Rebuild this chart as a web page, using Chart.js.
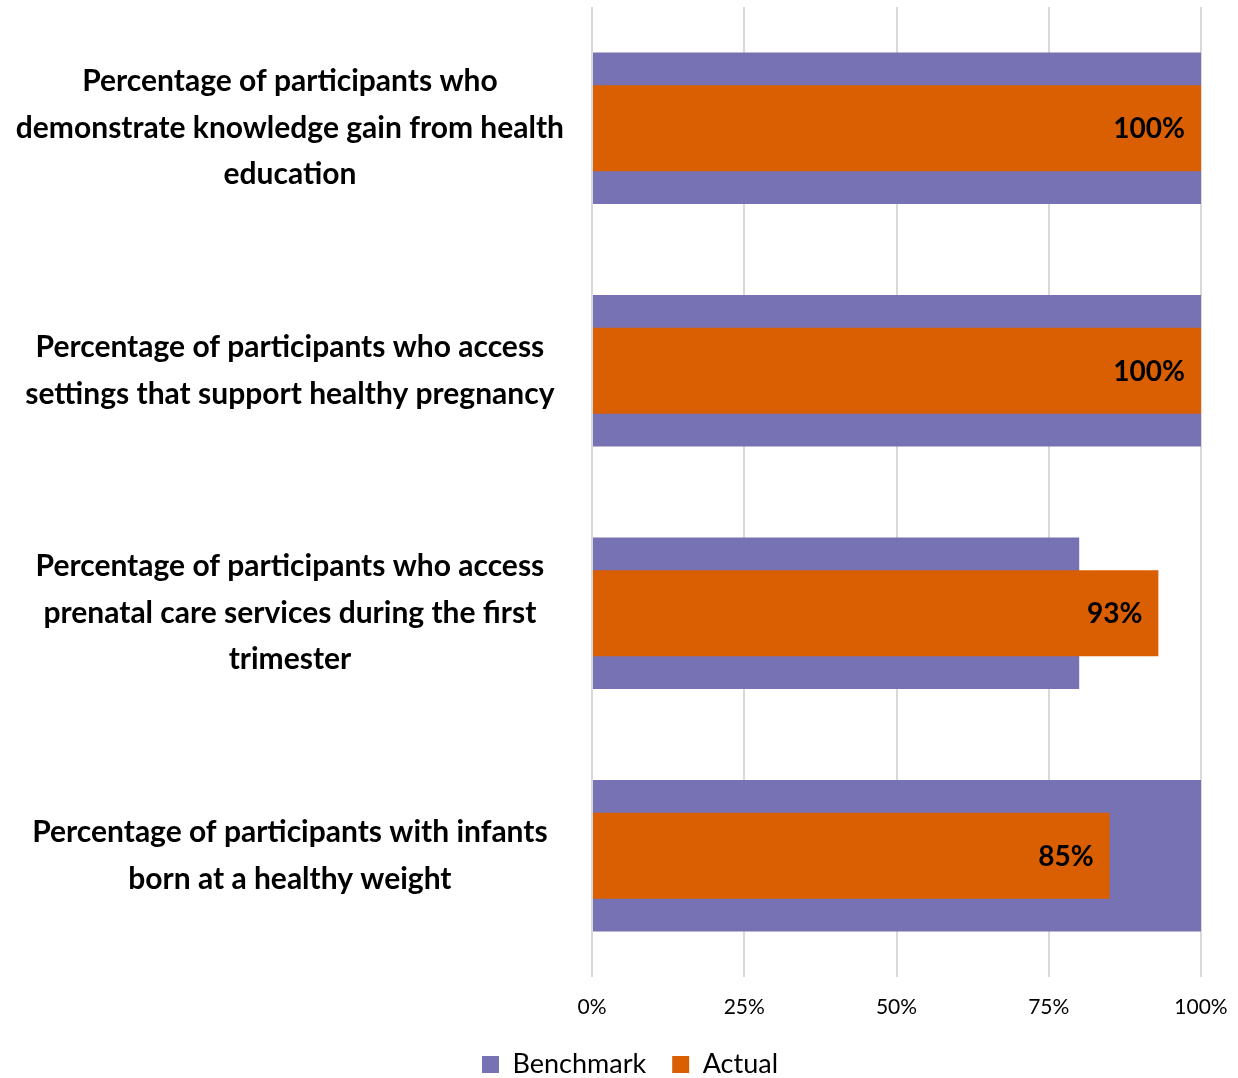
<!DOCTYPE html>
<html>
<head>
<meta charset="utf-8">
<title>Program outcomes vs benchmark</title>
<script src="https://cdn.jsdelivr.net/npm/chart.js@4.4.1/dist/chart.umd.min.js"></script>
<style>
  html, body { margin: 0; padding: 0; background: #fff; }
  #wrap { width: 1238px; height: 1078px; position: relative; }
</style>
</head>
<body>
<div id="wrap"><canvas id="outcomes-chart"></canvas></div>
<script>
// outcome measures, one per row (pre-split into display lines)
const categories = [
  ["Percentage of participants who", "demonstrate knowledge gain from health", "education"],
  ["Percentage of participants who access", "settings that support healthy pregnancy"],
  ["Percentage of participants who access", "prenatal care services during the first", "trimester"],
  ["Percentage of participants with infants", "born at a healthy weight"]
];
const benchmark = [100, 100, 80, 100];
const actual = [100, 100, 93, 85];
const xTicks = [0, 25, 50, 75, 100];

const FONT = "Lato, 'Open Sans', sans-serif";

// writes the value inside the right end of each Actual bar
const actualLabels = {
  id: "actualLabels",
  afterDatasetsDraw(chart) {
    const ctx = chart.ctx;
    const meta = chart.getDatasetMeta(1);
    ctx.save();
    ctx.font = "bold 28px " + FONT;
    ctx.fillStyle = "#000";
    ctx.textAlign = "right";
    ctx.textBaseline = "middle";
    meta.data.forEach((bar, i) => {
      ctx.fillText(actual[i] + "%", bar.x - 16, bar.y + 1);
    });
    ctx.restore();
  }
};

// nudge the legend a little right of the canvas centre
const legendShift = {
  id: "legendShift",
  afterLayout(chart) {
    const lg = chart.legend;
    if (lg) {
      lg.left += 11;
      lg.right += 11;
    }
  }
};

const chart = new Chart(document.getElementById("outcomes-chart"), {
  type: "bar",
  data: {
    labels: categories,
    datasets: [
      {
        label: "Benchmark",
        data: benchmark,
        backgroundColor: "#7672b4",
        barPercentage: 0.625,
        categoryPercentage: 1,
        grouped: false,
        order: 2,
      },
      {
        label: "Actual",
        data: actual,
        backgroundColor: "#d95f02",
        barPercentage: 0.355,
        categoryPercentage: 1,
        grouped: false,
        order: 1,
      },
    ],
  },
  options: {
    indexAxis: "y",
    responsive: true,
    maintainAspectRatio: false,
    animation: false,
    layout: {
      padding: { top: 7, right: 0, left: 0, bottom: -10 },
    },
    plugins: {
      legend: {
        position: "bottom",
        reverse: true,
        labels: {
          boxWidth: 17,
          boxHeight: 17,
          padding: 26,
          color: "#000",
          font: { family: FONT, size: 27 },
        },
      },
      tooltip: { enabled: false },
    },
    scales: {
      x: {
        min: 0,
        max: 100,
        afterBuildTicks: (scale) => {
          scale.ticks = xTicks.map((v) => ({ value: v }));
        },
        afterFit: (scale) => {
          scale.height = 48;
          // room on the right for the "100%" tick label only
          scale.paddingLeft = 0;
          scale.paddingRight = 37;
        },
        grid: {
          color: "#d9d9d9",
          lineWidth: 2,
          drawTicks: false,
        },
        border: { display: false },
        ticks: {
          padding: 18,
          color: "#000",
          font: { family: FONT, size: 21 },
          callback: (v) => v + "%",
        },
      },
      y: {
        grid: { display: false },
        border: { display: false },
        afterFit: (scale) => {
          scale.width = 592;
          // labels sit inside their bands, no extra room needed above/below
          scale.paddingTop = 0;
          scale.paddingBottom = 0;
        },
        ticks: {
          crossAlign: "center",
          padding: 20,
          color: "#000",
          font: { family: FONT, size: 30, weight: "bold", lineHeight: 1.55 },
        },
      },
    },
  },
  plugins: [actualLabels, legendShift],
});
</script>
</body>
</html>
